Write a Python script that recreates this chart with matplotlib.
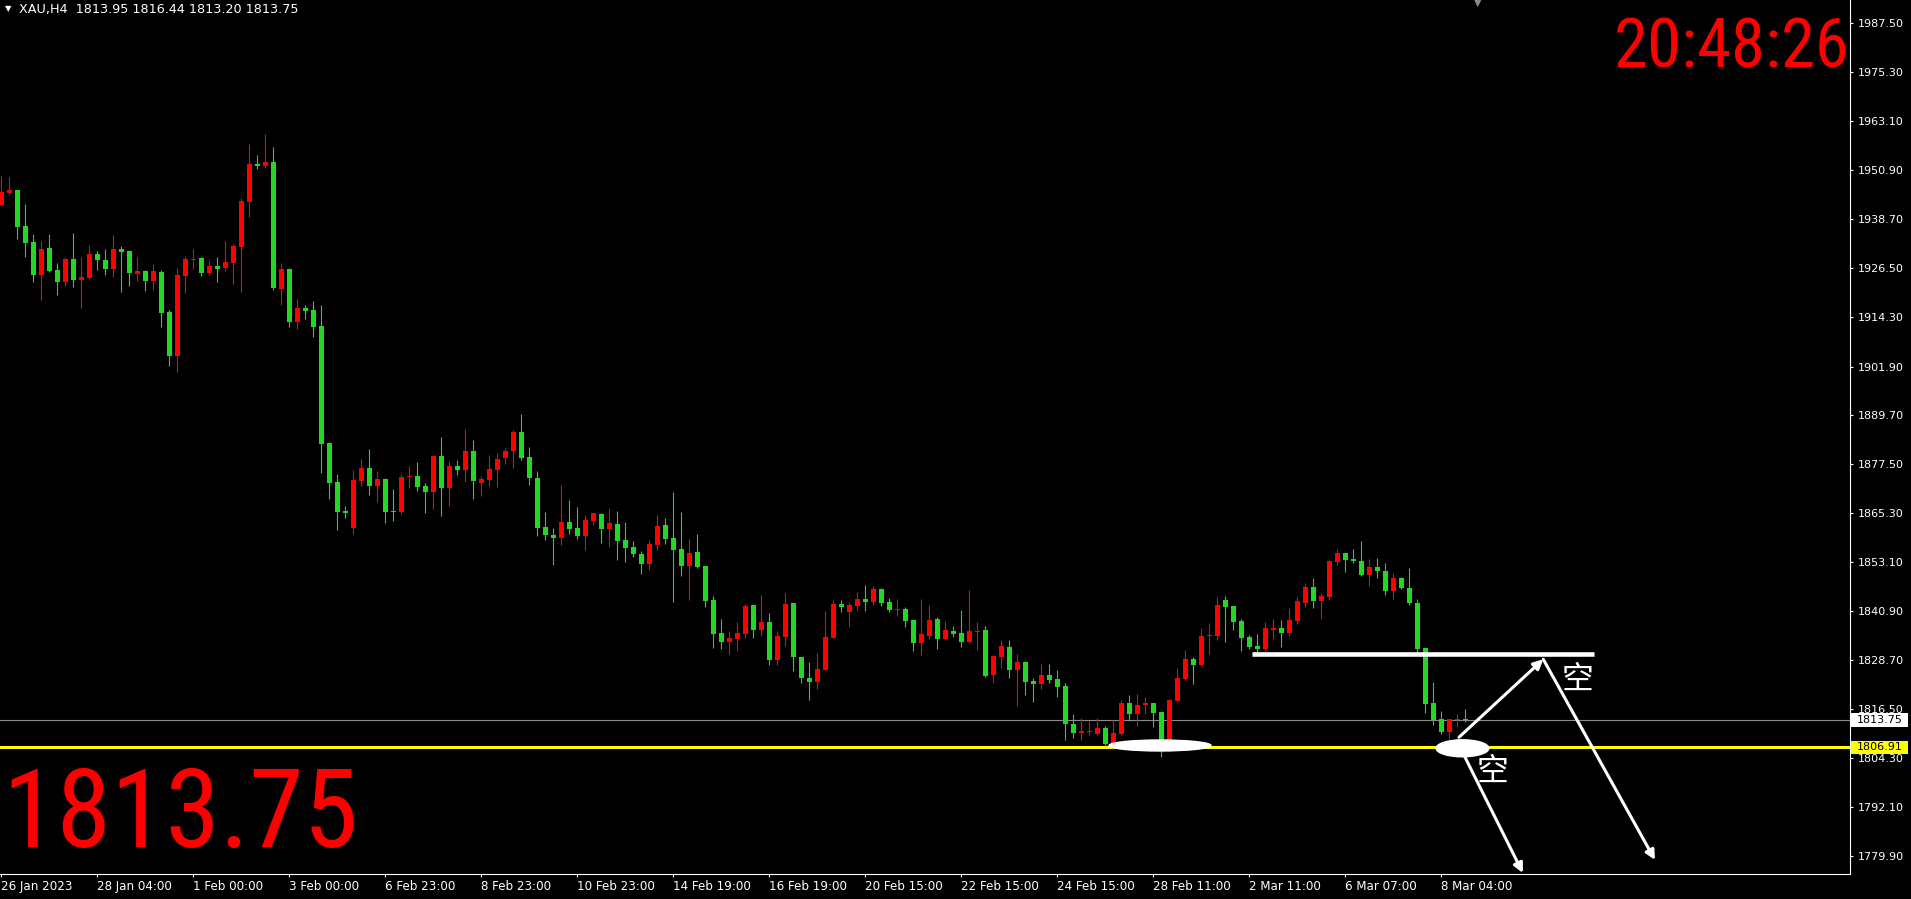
# XAU H4 K线图（MT4风格）
import matplotlib.pyplot as plt
import matplotlib.transforms as mtransforms
from matplotlib import font_manager
from matplotlib.patches import Ellipse, Rectangle
import numpy as np

plt.rcParams['font.family'] = ['DejaVu Sans', 'Noto Sans CJK SC']

# 每根K线的开高低收
opens = [1942.2, 1945.2, 1945.9, 1937.0, 1933.0, 1924.8, 1931.5, 1926.0, 1923.0, 1928.7,
         1923.5, 1924.0, 1930.0, 1928.5, 1926.2, 1931.2, 1930.7, 1925.0, 1925.7, 1923.2,
         1925.5, 1915.5, 1904.5, 1924.5, 1928.5, 1929.0, 1925.2, 1927.0, 1926.5, 1927.7,
         1931.7, 1942.9, 1952.4, 1951.9, 1952.9, 1921.2, 1926.2, 1913.0, 1916.5, 1916.0,
         1912.0, 1882.8, 1873.1, 1865.9, 1861.6, 1873.4, 1876.6, 1872.1, 1873.9, 1865.9,
         1865.6, 1874.4, 1874.6, 1872.1, 1870.6, 1879.6, 1871.6, 1877.1, 1876.1, 1880.8,
         1872.9, 1873.6, 1876.1, 1879.1, 1880.8, 1885.6, 1879.4, 1874.1, 1861.9, 1859.9,
         1859.2, 1863.1, 1861.6, 1859.7, 1863.4, 1865.1, 1861.4, 1862.6, 1858.7, 1856.9,
         1855.2, 1852.7, 1857.4, 1862.4, 1859.2, 1856.4, 1852.2, 1855.7, 1852.2, 1843.7,
         1835.5, 1833.2, 1834.0, 1835.2, 1842.4, 1836.2, 1838.2, 1828.7, 1834.5, 1842.9,
         1829.5, 1824.2, 1823.2, 1826.2, 1834.2, 1842.7, 1840.7, 1842.2, 1843.9, 1843.2,
         1846.4, 1843.2, 1841.2, 1841.4, 1838.7, 1833.0, 1834.7, 1839.0, 1834.0, 1836.0,
         1835.5, 1833.2, 1835.7, 1836.2, 1825.0, 1829.5, 1832.0, 1826.2, 1828.2, 1823.5,
         1822.7, 1825.0, 1824.0, 1822.2, 1812.8, 1810.5, 1810.8, 1810.3, 1811.8, 1807.8,
         1810.3, 1818.0, 1815.3, 1817.5, 1818.0, 1815.8, 1806.6, 1818.5, 1824.0, 1829.0,
         1827.5, 1834.7, 1834.7, 1843.7, 1842.2, 1838.4, 1834.5, 1832.2, 1831.5, 1836.2,
         1836.7, 1835.5, 1838.4, 1842.9, 1846.9, 1843.4, 1844.4, 1853.2, 1855.4, 1853.9,
         1853.4, 1849.9, 1851.9, 1850.9, 1845.9, 1849.2, 1846.7, 1842.9, 1831.7, 1818.0,
         1814.0, 1810.8, 1813.8, 1813.95]
highs = [1949.4, 1949.2, 1945.9, 1942.4, 1935.0, 1933.2, 1935.0, 1927.7, 1929.2, 1935.2,
         1929.2, 1932.2, 1930.7, 1931.2, 1934.7, 1932.0, 1931.0, 1929.2, 1926.0, 1927.5,
         1926.0, 1916.0, 1926.5, 1929.5, 1931.2, 1929.2, 1928.5, 1929.2, 1933.2, 1932.5,
         1943.9, 1957.4, 1954.7, 1959.9, 1956.7, 1927.7, 1926.5, 1918.8, 1917.3, 1918.3,
         1917.3, 1882.8, 1875.1, 1867.1, 1876.1, 1878.9, 1881.3, 1875.9, 1874.1, 1871.4,
         1875.1, 1877.1, 1878.1, 1872.9, 1879.8, 1884.3, 1878.4, 1878.6, 1886.3, 1883.6,
         1874.6, 1879.9, 1880.3, 1881.6, 1886.1, 1890.1, 1881.8, 1875.9, 1865.6, 1861.6,
         1872.4, 1868.6, 1866.9, 1864.9, 1865.4, 1865.4, 1866.6, 1865.9, 1863.1, 1858.4,
         1855.9, 1858.7, 1864.9, 1864.1, 1870.6, 1865.6, 1858.9, 1860.1, 1852.2, 1844.7,
         1839.0, 1836.0, 1838.2, 1842.7, 1842.4, 1844.9, 1840.4, 1836.0, 1845.4, 1842.9,
         1829.5, 1828.2, 1830.5, 1840.9, 1843.7, 1843.7, 1843.2, 1845.7, 1847.4, 1847.2,
         1846.7, 1844.2, 1843.9, 1841.9, 1838.7, 1843.9, 1842.4, 1839.4, 1838.5, 1837.2,
         1841.2, 1846.2, 1838.2, 1837.2, 1830.0, 1833.7, 1833.7, 1830.2, 1828.5, 1824.2,
         1827.7, 1827.7, 1826.2, 1823.0, 1815.3, 1814.3, 1813.5, 1814.3, 1812.3, 1813.8,
         1818.7, 1820.0, 1820.2, 1819.5, 1818.0, 1815.8, 1819.0, 1826.7, 1831.2, 1829.5,
         1836.7, 1837.9, 1844.4, 1844.7, 1842.2, 1838.9, 1835.0, 1835.2, 1838.2, 1838.9,
         1838.7, 1841.7, 1844.4, 1847.9, 1849.2, 1845.4, 1853.7, 1856.4, 1855.4, 1856.4,
         1858.4, 1853.9, 1854.2, 1852.9, 1850.4, 1849.4, 1851.7, 1843.9, 1831.7, 1823.2,
         1816.0, 1814.0, 1815.3, 1816.44]
lows = [1942.2, 1944.7, 1933.8, 1929.3, 1923.0, 1918.5, 1925.5, 1919.8, 1922.0, 1921.7,
        1916.5, 1923.7, 1926.0, 1924.7, 1924.2, 1920.5, 1922.0, 1923.2, 1920.7, 1921.0,
        1911.8, 1902.0, 1900.5, 1920.2, 1926.2, 1924.5, 1924.7, 1923.0, 1925.7, 1922.5,
        1920.5, 1939.2, 1951.2, 1951.4, 1921.0, 1917.3, 1911.8, 1911.3, 1913.8, 1909.3,
        1875.4, 1868.9, 1861.1, 1864.1, 1860.1, 1872.1, 1869.9, 1868.1, 1862.9, 1863.4,
        1865.1, 1871.6, 1870.9, 1865.4, 1866.4, 1864.6, 1867.1, 1874.9, 1873.1, 1868.9,
        1869.6, 1872.1, 1871.9, 1877.6, 1876.6, 1878.6, 1872.4, 1859.7, 1858.7, 1852.4,
        1857.4, 1860.1, 1858.9, 1856.2, 1862.4, 1857.9, 1856.9, 1853.7, 1853.2, 1854.4,
        1850.2, 1851.2, 1856.2, 1857.7, 1843.2, 1849.7, 1843.7, 1851.7, 1841.9, 1831.7,
        1831.5, 1830.2, 1831.0, 1834.2, 1834.2, 1834.7, 1827.5, 1827.5, 1832.2, 1826.0,
        1823.0, 1818.8, 1821.5, 1826.2, 1834.2, 1840.7, 1837.0, 1840.9, 1840.9, 1842.4,
        1842.2, 1840.7, 1839.7, 1837.0, 1831.0, 1830.0, 1834.0, 1831.5, 1834.0, 1834.5,
        1832.0, 1833.0, 1831.2, 1824.5, 1823.0, 1826.7, 1824.2, 1817.2, 1820.0, 1818.2,
        1821.5, 1823.0, 1819.5, 1808.8, 1809.3, 1808.8, 1810.0, 1810.0, 1807.3, 1806.3,
        1810.0, 1813.5, 1812.3, 1815.3, 1812.0, 1804.5, 1806.0, 1818.5, 1823.7, 1822.7,
        1827.2, 1830.2, 1833.7, 1833.2, 1836.2, 1831.0, 1831.5, 1830.7, 1831.0, 1834.0,
        1832.0, 1834.7, 1837.7, 1841.9, 1841.7, 1838.9, 1843.7, 1852.4, 1850.7, 1852.9,
        1849.7, 1847.2, 1849.2, 1844.9, 1843.9, 1846.4, 1842.4, 1830.7, 1815.5, 1812.5,
        1810.3, 1809.0, 1812.0, 1813.20]
closes = [1945.5, 1945.9, 1936.8, 1932.8, 1924.8, 1931.2, 1925.7, 1923.0, 1928.7, 1923.5,
          1924.2, 1930.0, 1928.5, 1926.2, 1931.2, 1930.5, 1925.2, 1925.7, 1923.2, 1925.7,
          1915.3, 1904.5, 1924.7, 1928.7, 1928.7, 1925.2, 1927.0, 1926.2, 1928.0, 1932.0,
          1943.2, 1952.4, 1951.9, 1952.9, 1921.5, 1926.2, 1913.0, 1916.5, 1915.8, 1911.8,
          1882.6, 1872.9, 1865.6, 1865.4, 1873.6, 1876.6, 1872.1, 1873.9, 1865.6, 1865.6,
          1874.4, 1874.6, 1871.9, 1870.6, 1879.6, 1871.6, 1877.1, 1876.1, 1880.8, 1873.4,
          1873.9, 1876.4, 1878.9, 1880.8, 1885.6, 1879.1, 1874.1, 1861.6, 1859.9, 1859.2,
          1863.1, 1861.4, 1859.7, 1863.6, 1865.4, 1861.4, 1862.9, 1858.4, 1856.7, 1855.2,
          1852.7, 1857.7, 1862.1, 1858.9, 1856.2, 1852.2, 1855.4, 1851.9, 1843.4, 1835.2,
          1833.2, 1834.2, 1835.5, 1842.2, 1836.2, 1838.2, 1828.7, 1834.7, 1842.7, 1829.5,
          1824.2, 1823.2, 1826.5, 1834.5, 1842.7, 1841.9, 1842.4, 1843.9, 1843.2, 1846.4,
          1842.9, 1841.2, 1841.4, 1838.5, 1833.0, 1835.2, 1838.7, 1834.0, 1836.2, 1835.2,
          1833.2, 1836.0, 1836.0, 1824.7, 1829.7, 1832.2, 1826.2, 1828.2, 1823.2, 1822.7,
          1825.0, 1823.7, 1822.0, 1812.8, 1810.5, 1811.0, 1811.0, 1811.8, 1807.8, 1810.5,
          1818.0, 1815.3, 1817.5, 1818.0, 1815.5, 1806.6, 1818.7, 1824.2, 1829.0, 1827.5,
          1834.7, 1835.0, 1842.4, 1841.9, 1838.2, 1834.2, 1832.0, 1831.5, 1836.7, 1836.7,
          1835.5, 1838.7, 1843.4, 1846.9, 1843.4, 1844.7, 1853.4, 1855.4, 1853.7, 1853.4,
          1849.9, 1851.9, 1850.9, 1845.9, 1849.2, 1846.7, 1842.9, 1831.5, 1817.7, 1813.8,
          1810.8, 1814.0, 1814.0, 1813.75]

# 坐标轴刻度
price_ticks = [1987.50, 1975.30, 1963.10, 1950.90, 1938.70, 1926.50, 1914.30, 1901.90, 1889.70,
               1877.50, 1865.30, 1853.10, 1840.90, 1828.70, 1816.50, 1804.30, 1792.10, 1779.90]
date_ticks = [0, 12, 24, 36, 48, 60, 72, 84, 96, 108, 120, 132, 144, 156, 168, 180]
date_labels = ['26 Jan 2023', '28 Jan 04:00', '1 Feb 00:00', '3 Feb 00:00', '6 Feb 23:00',
               '8 Feb 23:00', '10 Feb 23:00', '14 Feb 19:00', '16 Feb 19:00', '20 Feb 15:00',
               '22 Feb 15:00', '24 Feb 15:00', '28 Feb 11:00', '2 Mar 11:00', '6 Mar 07:00',
               '8 Mar 04:00']

bid_price = 1813.75
support_price = 1806.91
resist_price = 1830.08

# 手画的标注（bar序号, 价格）
ellipse1 = (144.84, 1807.38, 12.75, 2.74)
ellipse2 = (182.65, 1806.68, 6.6, 4.24)
resist_x = (156.34, 199.09)
arrow_up = ((182.21, 1809.43), (192.75, 1828.88))
arrow_down1 = ((192.75, 1828.88), (206.71, 1778.83))
arrow_down2 = ((182.7, 1805.52), (190.2, 1775.58))
kong_pos = [(197.09, 1823.72), (186.46, 1800.85)]

RED = '#ff0000'
GREEN = '#22d822'


# 找一个窄体字，没有就用 Liberation Sans
def pick_narrow_font():
    prefer = ['Liberation Sans Narrow', 'Roboto Condensed', 'Arimo', 'Noto Sans',
              'Open Sans', 'DejaVu Sans']
    fonts = font_manager.fontManager.ttflist
    for name in prefer:
        for f in fonts:
            if f.name == name and f.stretch != 'normal' and f.style == 'normal' \
                    and f.weight in (400, 'normal', 'regular'):
                return font_manager.FontProperties(fname=f.fname)
    for f in fonts:
        if f.name == 'Roboto Condensed' and f.style == 'normal':
            return font_manager.FontProperties(fname=f.fname)
    return font_manager.FontProperties(family='Liberation Sans')


W, H = 1911, 899
fig = plt.figure(figsize=(W / 100, H / 100), dpi=100, facecolor='black')
ax = fig.add_axes([0, 25 / H, 1850 / W, 874 / H], facecolor='black')

o = np.array(opens)
h = np.array(highs)
l = np.array(lows)
c = np.array(closes)
x = np.arange(len(o))
up = c > o
colors = np.where(up, RED, GREEN)

# 影线 + 实体
ax.vlines(x, l, h, colors=colors, lw=0.8, zorder=2)
ax.bar(x, np.maximum(np.abs(c - o), 0.3), bottom=np.minimum(o, c), width=0.62,
       color=colors, lw=0, zorder=3)

# 水平线
ax.axhline(bid_price, color='#8c8c8c', lw=0.8, zorder=1)
ax.axhline(support_price, color='#ffff00', lw=2.2, zorder=1)

# 白色标注
for ex, ey, ew, eh in [ellipse1, ellipse2]:
    ax.add_patch(Ellipse((ex, ey), ew, eh, color='white', zorder=6))
ax.plot(resist_x, [resist_price, resist_price], color='white', lw=3.3,
        solid_capstyle='butt', zorder=6)
for start, end in [arrow_up, arrow_down1, arrow_down2]:
    ax.annotate('', xy=end, xytext=start, zorder=6,
                arrowprops=dict(arrowstyle='-|>', color='white', lw=2.2,
                                mutation_scale=14, shrinkA=0, shrinkB=0))
for kx, ky in kong_pos:
    ax.text(kx, ky, '空', color='white', fontsize=23, family=['Noto Sans CJK SC'],
            ha='center', va='center', zorder=7)

ax.set_xlim(-0.1625, 231.09)
ax.set_ylim(1775.33, 1993.31)

# 坐标轴样式
ax.yaxis.tick_right()
ax.set_yticks(price_ticks)
ax.set_yticklabels([f'{v:.2f}' for v in price_ticks])
ax.set_xticks(date_ticks)
ax.set_xticklabels(date_labels)
for t in ax.get_xticklabels():
    t.set_ha('left')
ax.tick_params(axis='y', colors='white', length=2.5, width=0.8, pad=3, labelsize=8)
ax.tick_params(axis='x', colors='white', length=2.5, width=0.8, pad=2, labelsize=8.6)
for s in ['left', 'top']:
    ax.spines[s].set_visible(False)
for s in ['right', 'bottom']:
    ax.spines[s].set_color('white')
    ax.spines[s].set_linewidth(0.8)

# 右侧价格标签
blend = mtransforms.blended_transform_factory(ax.transAxes, ax.transData)
for price, face in [(bid_price, 'white'), (support_price, '#ffff00')]:
    ax.add_patch(Rectangle((1851 / 1850, price - 1.67), 57 / 1850, 3.34, transform=blend,
                           facecolor=face, edgecolor='none', clip_on=False, zorder=8))
    ax.text(1879.5 / 1850, price, f'{price:.2f}', transform=blend, color='black',
            fontsize=8, ha='center', va='center', clip_on=False, zorder=9)

# 顶部信息
fig.text(5 / W, 1 - 9 / H, '▼', color='white', fontsize=6, va='center')
fig.text(19 / W, 1 - 10 / H, 'XAU,H4  1813.95 1816.44 1813.20 1813.75', color='white',
         fontsize=9.2, va='center')
fig.text(1478 / W, 1 - 3 / H, '▼', color='#8a8a8a', fontsize=7, ha='center', va='center')

# 时钟和大号价格，按参考图的宽度调字号
narrow = pick_narrow_font()
clock = ax.text(1850 / 1850, 1 - 68 / 874, '20:48:26', transform=ax.transAxes,
                color='#ff0000', fontproperties=narrow, fontsize=52,
                ha='right', va='baseline')
big = ax.text(2 / 1850, 1 - 847 / 874, '1813.75', transform=ax.transAxes,
              color='#ff0000', fontproperties=narrow, fontsize=82,
              ha='left', va='baseline')
fig.canvas.draw()
for txt, target in [(clock, 236), (big, 356)]:
    w = txt.get_window_extent().width
    txt.set_fontsize(txt.get_fontsize() * target / w)

fig.savefig('out.png', dpi=100, facecolor='black')
